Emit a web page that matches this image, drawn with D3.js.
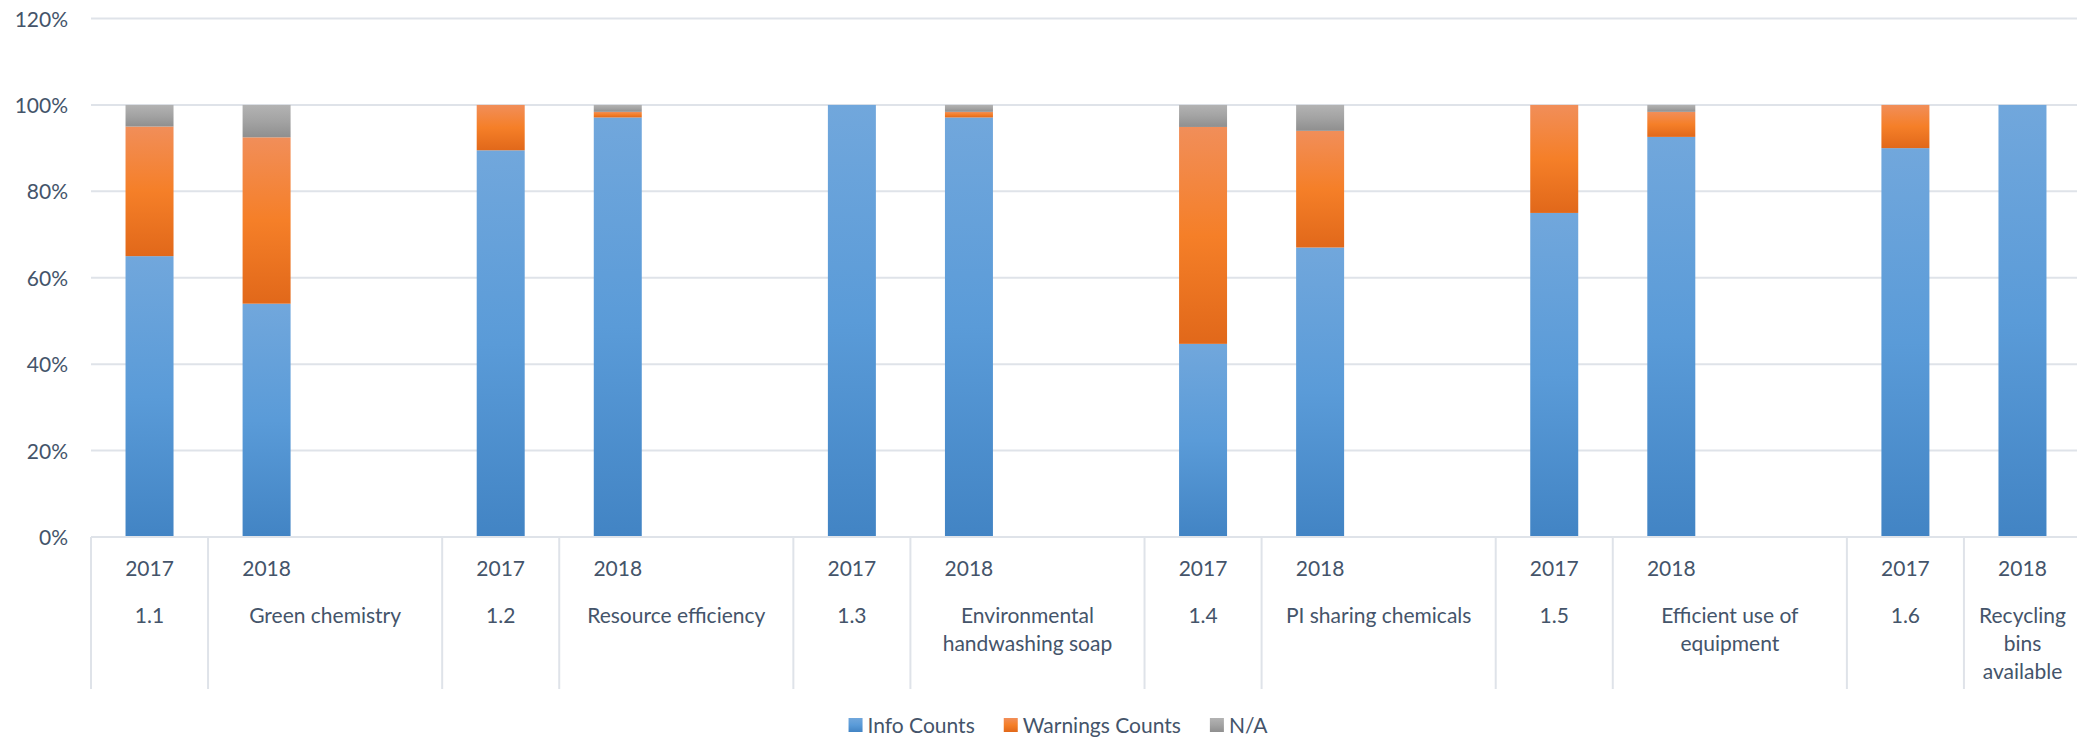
<!DOCTYPE html>
<html>
<head>
<meta charset="utf-8">
<script src="https://cdn.jsdelivr.net/npm/d3@7"></script>
<style>
  html, body { margin: 0; padding: 0; background: #fff; }
  svg { display: block; }
  text { font-family: Lato, "Open Sans", sans-serif; fill: #44546A; }
</style>
</head>
<body>
<svg id="chart" width="2077" height="738"></svg>
<script>
// ---- data ----
const codes = ["1.1", "1.2", "1.3", "1.4", "1.5", "1.6"];
const nameLines = [
  ["Green chemistry"],
  ["Resource efficiency"],
  ["Environmental", "handwashing soap"],
  ["PI sharing chemicals"],
  ["Efficient use of", "equipment"],
  ["Recycling", "bins", "available"]
];
const years = ["2017", "2018"];
const seriesNames = ["Info Counts", "Warnings Counts", "N/A"];
// per bar, order: 1.1-2017, 1.1-2018, 1.2-2017, 1.2-2018, ...
const infoCounts     = [65, 54,   89.5, 97.1, 100, 97.1, 44.7, 67, 75, 92.6, 90, 100];
const warningsCounts = [30, 38.5, 10.5, 1.3,  0,   1.3,  50.2, 27, 25, 5.8,  10, 0];
const naCounts       = [5,  7.5,  0,    1.6,  0,   1.6,  5.1,  6,  0,  1.6,  0,  0];
const yTicks = [0, 0.2, 0.4, 0.6, 0.8, 1.0, 1.2];

// ---- layout ----
const W = 2077, H = 738;
const plotLeft = 91, plotRight = 2081, plotTop = 18.5, plotBottom = 537;
const svg = d3.select("#chart");

// slot keys (each group: 2017, 2018, blank gap except last)
const slots = [];
codes.forEach((c, i) => {
  slots.push(i + "-0");
  slots.push(i + "-1");
  if (i < codes.length - 1) slots.push(i + "-gap");
});

const x = d3.scaleBand().domain(slots).range([plotLeft, plotRight]).padding(0);
const y = d3.scaleLinear().domain([0, 1.2]).range([plotBottom, plotTop]);
const step = x.step();
const barW = step * 0.41;

// rows
const rows = [];
codes.forEach((c, gi) => {
  years.forEach((yr, yi) => {
    const k = gi * 2 + yi;
    rows.push({
      slot: gi + "-" + yi,
      "Info Counts": infoCounts[k] / 100,
      "Warnings Counts": warningsCounts[k] / 100,
      "N/A": naCounts[k] / 100
    });
  });
});
const stacked = d3.stack().keys(seriesNames)(rows);

// gradients
const defs = svg.append("defs");
const gradStops = {
  "Info Counts": ["#71A7DC", "#5A9BD8", "#4284C4"],
  "Warnings Counts": ["#F18E59", "#F57F28", "#E1681A"],
  "N/A": ["#B3B3B3", "#A3A3A3", "#8F8F8F"]
};
const gradId = {};
seriesNames.forEach((s, i) => {
  const id = "g" + i;
  gradId[s] = id;
  const g = defs.append("linearGradient").attr("id", id)
    .attr("x1", 0).attr("y1", 0).attr("x2", 0).attr("y2", 1);
  gradStops[s].forEach((col, j) => {
    g.append("stop").attr("offset", j / 2).attr("stop-color", col);
  });
});

// gridlines
const gridColor = "#DFE3E9";
svg.append("g").selectAll("line").data(yTicks).join("line")
  .attr("x1", plotLeft).attr("x2", W)
  .attr("y1", d => y(d)).attr("y2", d => y(d))
  .attr("stroke", gridColor).attr("stroke-width", 2);

// y axis labels
const yAxis = d3.axisLeft(y).tickValues(yTicks).tickFormat(d3.format(".0%")).tickSize(0).tickPadding(0);
const yg = svg.append("g").attr("transform", `translate(68,0)`).call(yAxis);
yg.select(".domain").remove();
yg.selectAll("text").attr("font-family", "Lato, 'Open Sans', sans-serif")
  .attr("font-size", 21).attr("fill", "#44546A").attr("dy", "0.36em");

// bars
svg.append("g").selectAll("g").data(stacked).join("g")
  .attr("fill", d => `url(#${gradId[d.key]})`)
  .selectAll("rect").data(d => d.filter(p => p[1] - p[0] > 0)).join("rect")
  .attr("x", d => x(d.data.slot) + (step - barW) / 2)
  .attr("width", barW)
  .attr("y", d => y(d[1]))
  .attr("height", d => y(d[0]) - y(d[1]));

// category axis separators
const sepTop = plotBottom, sepBottom = 689;
const sepX = [];
codes.forEach((c, gi) => {
  sepX.push(x(gi + "-0"));
  sepX.push(x(gi + "-1"));
});
sepX.push(plotRight);
svg.append("g").selectAll("line").data(sepX).join("line")
  .attr("x1", d => d).attr("x2", d => d)
  .attr("y1", sepTop).attr("y2", sepBottom)
  .attr("stroke", gridColor).attr("stroke-width", 2);

// year labels
const lab = svg.append("g").attr("font-size", 21).attr("text-anchor", "middle");
codes.forEach((c, gi) => {
  years.forEach((yr, yi) => {
    lab.append("text")
      .attr("x", x(gi + "-" + yi) + step / 2)
      .attr("y", 576)
      .text(yr);
  });
  // code label under 2017
  lab.append("text")
    .attr("x", x(gi + "-0") + step / 2)
    .attr("y", 623)
    .text(c);
  // name label under 2018 (+ gap)
  const span = gi < codes.length - 1 ? 2 : 1;
  const cx = x(gi + "-1") + span * step / 2;
  const t = lab.append("text").attr("x", cx).attr("y", 623);
  nameLines[gi].forEach((ln, li) => {
    t.append("tspan").attr("x", cx).attr("y", 623 + li * 28).text(ln);
  });
});

// axis baseline (0%) on top
svg.append("line").attr("x1", plotLeft).attr("x2", W)
  .attr("y1", y(0)).attr("y2", y(0))
  .attr("stroke", gridColor).attr("stroke-width", 2);

// legend
const leg = svg.append("g").attr("font-size", 21);
const items = [];
let lx = 0;
const sq = 14, gapSqText = 5, gapItems = 29;
seriesNames.forEach((s, i) => {
  const g = leg.append("g");
  g.append("rect").attr("x", 0).attr("y", 718).attr("width", sq).attr("height", sq)
    .attr("fill", `url(#${gradId[s]})`);
  const tt = g.append("text").attr("x", sq + gapSqText).attr("y", 733).text(s);
  const w = sq + gapSqText + tt.node().getComputedTextLength();
  items.push({ g, w });
});
const total = d3.sum(items, d => d.w) + gapItems * (items.length - 1);
let cur = 1058 - total / 2;
items.forEach(it => {
  it.g.attr("transform", `translate(${cur},0)`);
  cur += it.w + gapItems;
});
</script>
</body>
</html>
